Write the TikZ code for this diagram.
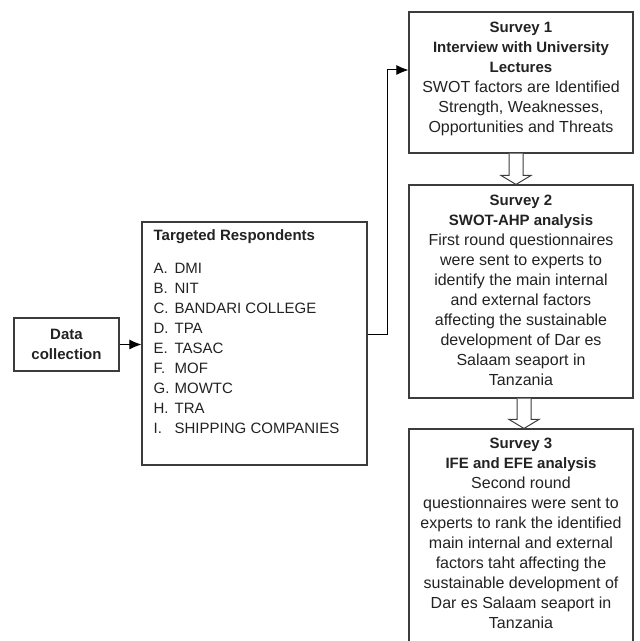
\documentclass[tikz,border=0pt]{standalone}
\usepackage{fontspec}
\setmainfont{Liberation Sans}
\usetikzlibrary{positioning,calc,arrows.meta}
\definecolor{boxline}{HTML}{3C3C3C}
\definecolor{ink}{HTML}{222222}
\tikzset{box/.style={draw=boxline,line width=1.1pt,inner sep=0pt,text=ink},
  txt/.style={align=center,inner sep=0pt,text=ink,font=\fontsize{16}{20}\selectfont},
  lst/.style={align=left,inner sep=0pt,text=ink,font=\fontsize{15}{20}\selectfont},
  conn/.style={draw=black,line width=1pt,-{Latex[length=12pt,width=10pt]}},
  barrow/.style={draw=boxline,line width=1pt,fill=white,line join=miter}}
\newcommand{\hdr}[1]{{\fontsize{15}{20}\selectfont\bfseries #1}}
\begin{document}
\begin{tikzpicture}[x=1pt,y=1pt]
\useasboundingbox (0,0) rectangle (640,641);
% left side
\node[box,minimum width=105,minimum height=53,align=center,font=\fontsize{15}{20}\selectfont\bfseries](dc)at(66.5,296.5){Data\\collection};
\node[box,minimum width=225,minimum height=243](tr)at(254.5,297.5){};
\node[lst,anchor=north west](trt)at($(tr.north west)+(12,-8)$){\textbf{Targeted Respondents}\\[13pt]
  \makebox[21pt][l]{A.}DMI\\
  \makebox[21pt][l]{B.}NIT\\
  \makebox[21pt][l]{C.}BANDARI COLLEGE\\
  \makebox[21pt][l]{D.}TPA\\
  \makebox[21pt][l]{E.}TASAC\\
  \makebox[21pt][l]{F.}MOF\\
  \makebox[21pt][l]{G.}MOWTC\\
  \makebox[21pt][l]{H.}TRA\\
  \makebox[21pt][l]{I.}SHIPPING COMPANIES};
% surveys
\node[box,minimum width=224,minimum height=141](s1)at(521,558.5){};
\node[txt,below=10.5pt of s1.north](s1t){\hdr{Survey 1}\\\hdr{Interview with University}\\\hdr{Lectures}\\
  SWOT factors are Identified\\Strength, Weaknesses,\\Opportunities and Threats};
\node[box,minimum width=224,minimum height=213](s2)at(521,349.5){};
\node[txt,below=10pt of s2.north](s2t){\hdr{Survey 2}\\\hdr{SWOT-AHP analysis}\\
  First round questionnaires\\were sent to experts to\\identify the main internal\\and external factors\\
  affecting the sustainable\\development of Dar es\\Salaam seaport in\\Tanzania};
\node[box,minimum width=224,minimum height=215](s3)at(521,104.5){};
\node[txt,below=9pt of s3.north](s3t){\hdr{Survey 3}\\\hdr{IFE and EFE analysis}\\
  Second round\\questionnaires were sent to\\experts to rank the identified\\main internal and external\\
  factors taht affecting the\\sustainable development of\\Dar es Salaam seaport in\\Tanzania};
% connectors
\draw[conn](dc.east)--(dc.east -| tr.west);
\draw[conn]([yshift=8.5pt]tr.east)--++(20,0)|-([yshift=12.5pt]s1.west);
\draw[barrow]($(s1.south)+(-12,0)$)--($(s2.north)+(-12,9)$)--($(s2.north)+(-20,9)$)--($(s2.north)+(-5,0)$)
  --($(s2.north)+(10,9)$)--($(s2.north)+(2,9)$)--($(s1.south)+(2,0)$);
\draw[barrow]($(s2.south)+(-4,0)$)--($(s3.north)+(-4,9)$)--($(s3.north)+(-12,9)$)--($(s3.north)+(3,0)$)
  --($(s3.north)+(18,9)$)--($(s3.north)+(10,9)$)--($(s2.south)+(10,0)$);
\end{tikzpicture}
\end{document}
